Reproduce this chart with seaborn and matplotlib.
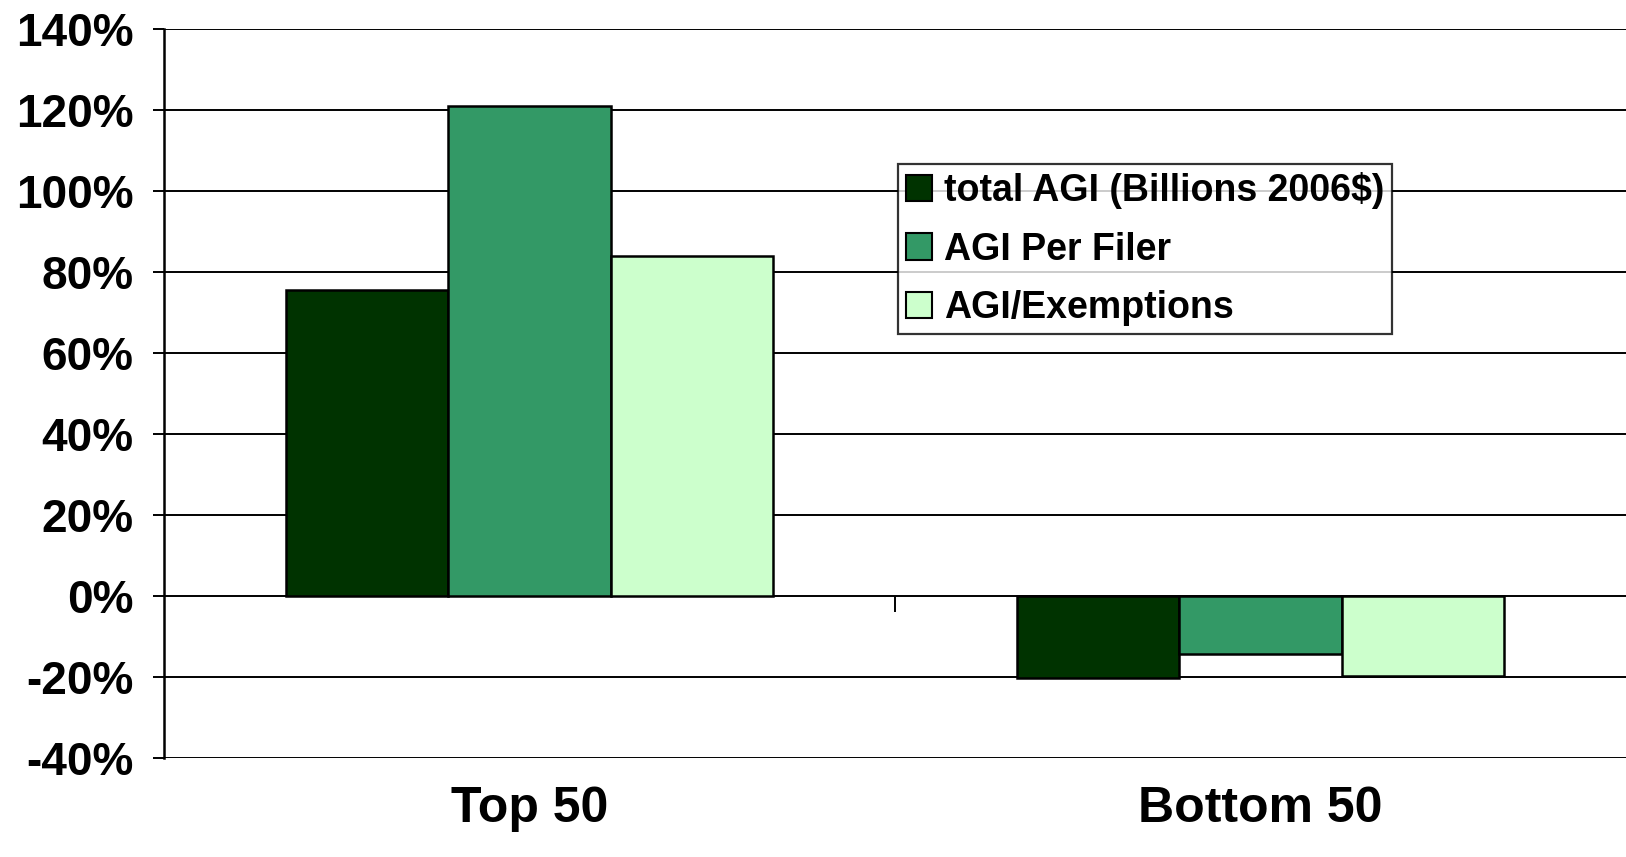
import matplotlib
matplotlib.use("Agg")
import matplotlib.pyplot as plt
import seaborn as sns
import pandas as pd

categories = ["Top 50", "Bottom 50"]
series_names = ["total AGI (Billions 2006$)", "AGI Per Filer", "AGI/Exemptions"]
total_agi = [75.5, -20.2]
agi_per_filer = [120.9, -14.3]
agi_exemptions = [84.0, -19.7]
y_ticks = [-40, -20, 0, 20, 40, 60, 80, 100, 120, 140]
colors = ["#003300", "#339966", "#CCFFCC"]

rows = []
for name, vals in zip(series_names, [total_agi, agi_per_filer, agi_exemptions]):
    for c, v in zip(categories, vals):
        rows.append({"cat": c, "series": name, "value": v})
df = pd.DataFrame(rows)

sns.set_style("white")
plt.rcParams["font.family"] = ["Liberation Sans", "DejaVu Sans"]
plt.rcParams["font.weight"] = "bold"
plt.rcParams["text.color"] = "black"
plt.rcParams["xtick.color"] = "black"
plt.rcParams["ytick.color"] = "black"
plt.rcParams["axes.labelcolor"] = "black"

fig = plt.figure(figsize=(16.26, 8.57), dpi=100)
ax = fig.add_axes([164 / 1626, 1 - 758 / 857, 1 - 164 / 1626, (758 - 29) / 857])

sns.barplot(data=df, x="cat", y="value", hue="series", order=categories,
            hue_order=series_names, palette=colors, width=0.665, gap=0,
            edgecolor="black", linewidth=1.8, saturation=1, ax=ax, errorbar=None)

ax.set_xlim(-0.5, 1.5)
ax.set_ylim(-40, 140)
ax.set_yticks(y_ticks)
ax.set_yticklabels([f"{t}%" for t in y_ticks], fontsize=33, fontweight="bold", color="black")
ax.set_xticks(range(len(categories)))
ax.set_xticklabels(categories, fontsize=36, fontweight="bold", color="black")
ax.tick_params(axis="x", length=0, pad=20)
ax.tick_params(axis="y", length=8, width=1.4, pad=14, direction="out", left=True, color="black")
ax.set_xlabel("")
ax.set_ylabel("")
ax.set_axisbelow(True)
ax.yaxis.grid(True, color="black", linewidth=1.4)
ax.xaxis.grid(False)
for s in ["top", "right", "bottom"]:
    ax.spines[s].set_visible(False)
ax.spines["left"].set_color("black")
ax.spines["left"].set_linewidth(1.8)
ax.vlines(0.5, -4, 0, color="black", linewidth=1.4)

leg = ax.legend(loc="upper left", bbox_to_anchor=(0.502, 0.815), borderaxespad=0,
                fancybox=False, frameon=True, edgecolor="black",
                prop={"family": "Liberation Sans", "weight": "bold", "size": 27},
                handlelength=0.7, handleheight=0.7, handletextpad=0.3,
                labelspacing=0.6, borderpad=0.22, title=None)
leg.get_frame().set_linewidth(1.6)
for t in leg.get_texts():
    t.set_color("black")
for h in leg.legend_handles:
    h.set_edgecolor("black")
    h.set_linewidth(1.5)

fig.savefig("out.png", dpi=100)
